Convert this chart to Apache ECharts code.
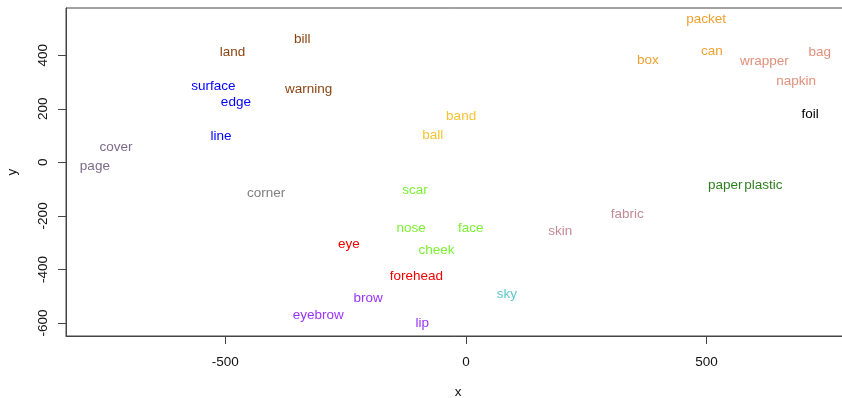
<!DOCTYPE html>
<html>
<head>
<meta charset="utf-8">
<script src="https://cdn.jsdelivr.net/npm/echarts@6/dist/echarts.min.js"></script>
<style>
  html, body { margin: 0; padding: 0; background: #fff; }
  #chart { width: 842px; height: 398px; }
</style>
</head>
<body>
<div id="chart"></div>
<script>
// Word embedding projection: each word drawn as a text label at (x, y)
const words = ['land', 'bill', 'warning',
  'surface', 'edge', 'line',
  'cover', 'page', 'corner',
  'band', 'ball',
  'scar', 'nose', 'face', 'cheek',
  'eye', 'forehead',
  'brow', 'eyebrow', 'lip',
  'sky',
  'skin', 'fabric',
  'packet', 'can', 'box',
  'bag', 'wrapper', 'napkin',
  'foil',
  'paper', 'plastic'];
const xs = [-485, -340, -327,
  -525, -478, -509,
  -727, -771, -415,
  -10, -69,
  -106, -114, 10, -61,
  -243, -103,
  -203, -307, -91,
  85,
  196, 335,
  499, 511, 378,
  735, 620, 686,
  715,
  539, 618];
const ys = [413, 460, 272,
  286, 226, 98,
  57, -14, -114,
  173, 103,
  -106, -245, -246, -330,
  -307, -426,
  -507, -571, -601,
  -492,
  -256, -195,
  535, 417, 380,
  413, 376, 304,
  178,
  -86, -86];
// cluster index for each word
const groups = [0, 0, 0,
  1, 1, 1,
  2, 2, 3,
  4, 4,
  5, 5, 5, 5,
  6, 6,
  7, 7, 7,
  8,
  9, 9,
  10, 10, 10,
  11, 11, 11,
  12,
  13, 13];
const groupColors = ['#8B4513', '#0000FF', '#7D6B8A', '#808080', '#F7C430',
  '#7CF032', '#EE0000', '#9933FF', '#5FC6C9', '#C48A96', '#F0A030',
  '#E0907A', '#000000', '#2F7F1F'];
const xTicks = [-500, 0, 500];
const yTicks = [-600, -400, -200, 0, 200, 400];

const font = '"Liberation Sans", Arial, Helvetica, sans-serif';

const points = words.map((w, i) => ({
  name: w,
  value: [xs[i], ys[i]],
  label: { color: groupColors[groups[i]] }
}));

const chart = echarts.init(document.getElementById('chart'), null, { renderer: 'canvas' });
chart.setOption({
  animation: false,
  backgroundColor: '#ffffff',
  grid: {
    left: 66, top: 8, right: -8, bottom: 62,
    containLabel: false, outerBoundsMode: 'none',
    show: true, borderColor: '#444', borderWidth: 1, backgroundColor: 'transparent'
  },
  xAxis: {
    type: 'value', min: -831, max: 798,
    name: 'x', nameLocation: 'middle', nameGap: 49,
    nameTextStyle: { fontFamily: font, fontSize: 13.5, color: '#111' },
    splitLine: { show: false },
    axisLine: { show: true, onZero: false, lineStyle: { color: '#444' } },
    axisTick: { show: true, length: 8, customValues: xTicks, lineStyle: { color: '#444' } },
    axisLabel: { customValues: xTicks, margin: 19, fontFamily: font, fontSize: 13.5, color: '#111' }
  },
  yAxis: {
    type: 'value', min: -649, max: 577,
    name: 'y', nameLocation: 'middle', nameGap: 47, nameRotate: 90,
    nameTextStyle: { fontFamily: font, fontSize: 13.5, color: '#111' },
    splitLine: { show: false },
    axisLine: { show: true, onZero: false, lineStyle: { color: '#444' } },
    axisTick: { show: true, length: 8, customValues: yTicks, lineStyle: { color: '#444' } },
    axisLabel: { customValues: yTicks, rotate: 90, margin: 16, fontFamily: font, fontSize: 13.5, color: '#111' }
  },
  series: [{
    type: 'scatter',
    data: points,
    symbol: 'circle',
    symbolSize: 1,
    itemStyle: { color: 'rgba(0,0,0,0)', opacity: 1 },
    label: {
      show: true, position: 'inside',
      formatter: p => p.name,
      fontFamily: font, fontSize: 13.5,
      opacity: 1, offset: [0, 1],
      align: 'center', verticalAlign: 'middle'
    },
    emphasis: { disabled: true },
    labelLayout: { hideOverlap: false }
  }]
});
</script>
</body>
</html>
